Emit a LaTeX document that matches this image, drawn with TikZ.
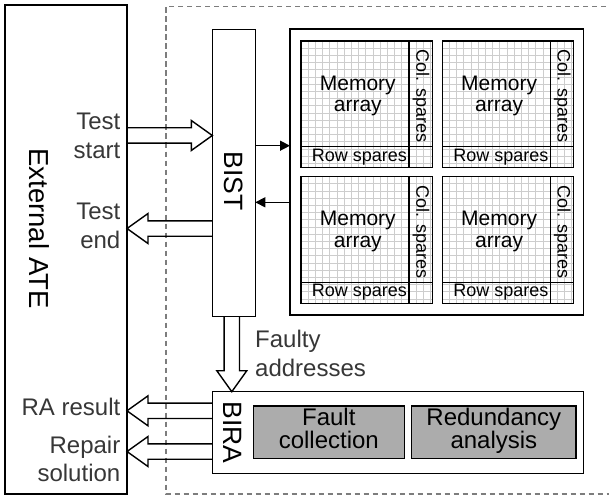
\documentclass[tikz,border=0pt]{standalone}
\usepackage{fontspec}
\setmainfont{Liberation Sans}
\usetikzlibrary{calc,arrows.meta}
\definecolor{labelgray}{RGB}{55,55,55}
\definecolor{cellgray}{RGB}{172,172,172}
\definecolor{gridgray}{RGB}{205,205,205}
\definecolor{dashgray}{RGB}{125,125,125}

\begin{document}
\begin{tikzpicture}[x=1pt, y=-1pt,
  blk/.style={draw, line width=1.4pt, inner sep=0pt, outer sep=0pt},
  lbl/.style={inner sep=0pt, text=labelgray, font=\fontsize{24}{29}\selectfont},
  vtext/.style={inner sep=0pt, rotate=-90, font=\fontsize{26.5}{30}\selectfont},
  cell/.style={blk, fill=cellgray, align=center, text depth=8pt,
               font=\fontsize{24}{22.6}\selectfont},
  memtext/.style={inner sep=0pt, align=center, font=\fontsize{21}{21.5}\selectfont},
  sparetext/.style={inner sep=0pt, font=\fontsize{18}{20}\selectfont},
  gridline/.style={draw=gridgray, line width=0.9pt},
  divline/.style={line width=1.2pt},
  ctrl/.style={line width=1.4pt, -{Triangle[length=10pt, width=10pt]}},
  fat/.style={line width=1.4pt, line join=miter, to path={
    ($(\tikztostart)!7.7pt!90:(\tikztotarget)$)
    -- ($(\tikztotarget)!21pt!(\tikztostart)!7.7pt!-90:(\tikztostart)$)
    -- ($(\tikztotarget)!21pt!(\tikztostart)!15pt!-90:(\tikztostart)$)
    -- (\tikztotarget)
    -- ($(\tikztotarget)!21pt!(\tikztostart)!15pt!90:(\tikztostart)$)
    -- ($(\tikztotarget)!21pt!(\tikztostart)!7.7pt!90:(\tikztostart)$)
    -- ($(\tikztostart)!7.7pt!-90:(\tikztotarget)$)}}]
  \useasboundingbox (0,0) rectangle (609,497);

  % chip boundary
  \draw[dashgray, line width=1.3pt, dash pattern=on 5.5pt off 3.5pt]
    (615,6.5) -- (166,6.5) -- (166,494) -- (615,494);

  % tester
  \node[blk, minimum width=122pt, minimum height=489pt] (ate) at (66,249.5) {};
  \node[vtext, font=\fontsize{27.5}{30}\selectfont] (atelbl) at (39,228.5) {External ATE};

  % BIST and memories
  \node[blk, minimum width=43pt, minimum height=287.4pt] (bist) at (233.8,173) {};
  \node[vtext] (bistlbl) at (233.5,181) {BIST};
  \node[blk, minimum width=293.3pt, minimum height=286pt] (memblk) at (436.65,172) {};

  \foreach \ax/\ay/\k in {301/41/1, 442.3/41/2, 301/176.7/3, 442.3/176.7/4}{
    \begin{scope}
      \clip (\ax,\ay) rectangle ++(131.5,126.5);
      \foreach \g in {1,...,18}
        \draw[gridline] (\ax+\g*7.2,\ay) -- ++(0,126.5);
      \foreach \g in {1,...,17}
        \draw[gridline] (\ax,\ay+\g*7.2) -- ++(131.5,0);
    \end{scope}
    \node[blk, line width=1.2pt, minimum width=131.5pt, minimum height=126.5pt,
          anchor=north west] (arr\k) at (\ax,\ay) {};
    \draw[divline] ([xshift=108pt]arr\k.north west) -- ([xshift=108pt]arr\k.south west);
    \draw[divline] ([yshift=-105.5pt]arr\k.north west) -- ([yshift=-105.5pt]arr\k.north east);
    \node[memtext] (mtxt\k) at ($(arr\k.north west)+(56.8,55)$) {Memory\\array};
    \node[sparetext] (rtxt\k) at ($(arr\k.north west)+(58.5,115.7)$) {Row spares};
    \node[sparetext, rotate=-90] (ctxt\k) at ($(arr\k.north west)+(120,55)$) {Col. spares};
  }

  \draw[ctrl] ([yshift=27.3pt]bist.east) -- ([yshift=27.3pt]bist.east -| memblk.west);
  \draw[ctrl] ([yshift=-29.3pt]bist.east -| memblk.west) -- ([yshift=-29.3pt]bist.east);

  % BIRA
  \node[blk, minimum width=371pt, minimum height=81.6pt] (bira) at (397.8,432.5) {};
  \node[vtext] (biralbl) at (233,432.5) {BIRA};
  \node[cell, minimum width=151pt, minimum height=52.3pt] (fc) at (328.8,432.2) {Fault\\collection};
  \node[cell, minimum width=164.3pt, minimum height=52.3pt] (ra) at (493.85,432.2) {Redundancy\\analysis};

  % wide buses
  \draw[fat] ([yshift=37.5pt]bist.west -| ate.east) to ([yshift=37.5pt]bist.west);
  \draw[fat] ([yshift=-55.5pt]bist.west) to ([yshift=-55.5pt]bist.west -| ate.east);
  \draw[fat] ([xshift=-2pt]bist.south) to ([xshift=-2pt]bist.south |- bira.north);
  \draw[fat] ([yshift=21.7pt]bira.west) to ([yshift=21.7pt]bira.west -| ate.east);
  \draw[fat] ([yshift=-19pt]bira.west) to ([yshift=-19pt]bira.west -| ate.east);

  \node[lbl, align=right, anchor=east] (tstart) at (120.5,136) {Test\\start};
  \node[lbl, align=right, anchor=east] (tend) at (120.5,226) {Test\\end};
  \node[lbl, anchor=east] (rares) at (120.5,406.7) {RA result};
  \node[lbl, align=right, anchor=east, font=\fontsize{24}{28}\selectfont] (repair) at (120.5,459) {Repair\\solution};
  \node[lbl, align=left, anchor=west] (faulty) at (255,353.5) {Faulty\\addresses};
\end{tikzpicture}
\end{document}
